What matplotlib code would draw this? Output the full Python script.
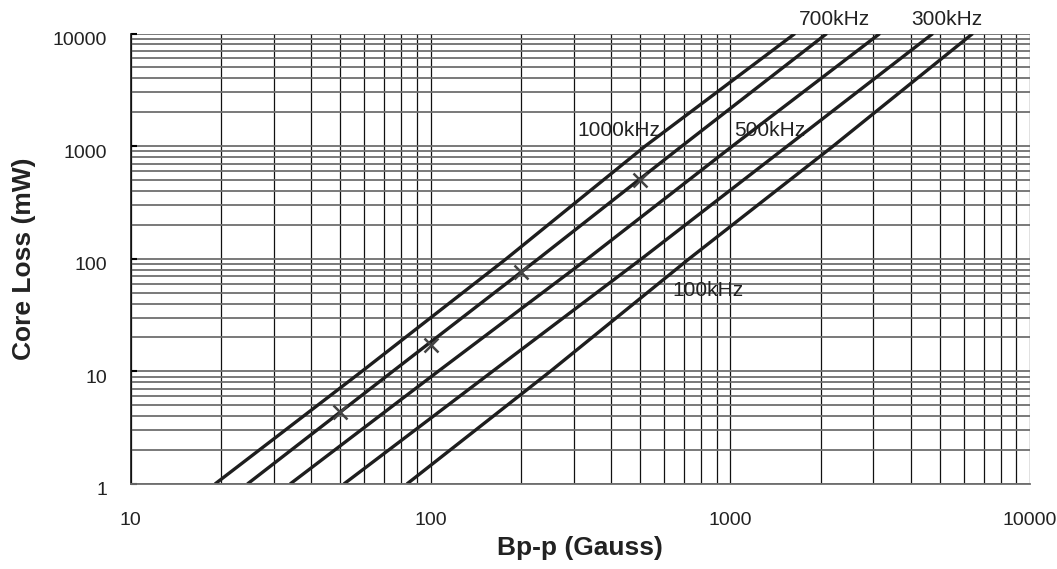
import matplotlib
matplotlib.use("Agg")
import matplotlib.pyplot as plt
import matplotlib.transforms as mtransforms
from matplotlib.ticker import LogLocator, FixedFormatter, FixedLocator, NullFormatter

plt.rcParams['font.family'] = ['Liberation Sans', 'DejaVu Sans']

loss = [1, 10, 100, 1000, 10000]

# flux density (Gauss) at those loss levels, one list per frequency
bpp_1000k = [19.1, 59, 179, 520, 1644]
bpp_700k = [24.5, 74.8, 229, 689, 2099]
bpp_500k = [34, 106, 334, 1016, 3155]
bpp_300k = [51.4, 161, 506, 1549, 4741]
bpp_100k = [83.4, 251, 729, 2203, 6440]

# measured points marked with an x
bpp_marks = [50, 100, 200, 500]
loss_marks = [4.35, 17.2, 77, 500]

x_ticks = [10, 100, 1000, 10000]
y_ticks = [1, 10, 100, 1000, 10000]

fig = plt.figure(figsize=(10.57, 5.69), dpi=100)
ax = fig.add_axes([0.1237, 0.1494, 0.8508, 0.7917])

ax.set_xscale('log')
ax.set_yscale('log')
ax.set_xlim(10, 10000)
ax.set_ylim(1, 10000)

# grid: grey horizontals, thin black verticals
ax.yaxis.set_minor_locator(LogLocator(base=10, subs=range(2, 10)))
ax.xaxis.set_minor_locator(LogLocator(base=10, subs=range(2, 10)))
ax.grid(True, which='both', axis='y', color='#6e6e6e', lw=1.3)
ax.grid(True, which='both', axis='x', color='#111111', lw=0.9)
ax.set_axisbelow(True)

for b in [bpp_1000k, bpp_700k, bpp_500k, bpp_300k, bpp_100k]:
    ax.plot(b, loss, color='#1e1e1e', lw=2.4, solid_capstyle='butt')

ax.plot(bpp_marks, loss_marks, linestyle='none', marker='x', ms=10,
        mew=1.8, color='#444444')

lab = dict(fontsize=15, color='#222222')
ax.text(310, 1390, '1000kHz', ha='left', va='center', **lab)
ax.text(1030, 1390, '500kHz', ha='left', va='center', **lab)
ax.text(639, 51.8, '100kHz', ha='left', va='center', **lab)
ax.text(1694, 13400, '700kHz', ha='left', va='center', clip_on=False, **lab)
ax.text(4000, 13400, '300kHz', ha='left', va='center', clip_on=False, **lab)

ax.xaxis.set_major_locator(FixedLocator(x_ticks))
ax.xaxis.set_major_formatter(FixedFormatter([str(v) for v in x_ticks]))
ax.xaxis.set_minor_formatter(NullFormatter())
ax.yaxis.set_major_locator(FixedLocator(y_ticks))
ax.yaxis.set_major_formatter(FixedFormatter([str(v) for v in y_ticks]))
ax.yaxis.set_minor_formatter(NullFormatter())

ax.tick_params(axis='x', which='both', length=0, pad=20, labelsize=14, labelcolor='#222222')
ax.tick_params(axis='y', which='major', length=4, width=1.5, direction='in', pad=17,
               labelsize=14, labelcolor='#222222')
ax.tick_params(axis='y', which='minor', length=0)

# nudge y labels slightly downward like the original
offset = mtransforms.ScaledTranslation(0, -5 / 100, fig.dpi_scale_trans)
for t in ax.get_yticklabels():
    t.set_transform(t.get_transform() + offset)

for side in ['top', 'right']:
    ax.spines[side].set_visible(False)
ax.spines['left'].set_color('#111111')
ax.spines['left'].set_linewidth(1.2)
ax.spines['bottom'].set_color('#6e6e6e')
ax.spines['bottom'].set_linewidth(1.3)

ax.set_xlabel('Bp-p (Gauss)', fontsize=19, fontweight='bold', color='#222222')
ax.set_ylabel('Core Loss (mW)', fontsize=19, fontweight='bold', color='#222222')
ax.xaxis.set_label_coords(0.5, -0.115)
ax.yaxis.set_label_coords(-0.105, 0.5)

fig.savefig('out.png', dpi=100, facecolor='white')
